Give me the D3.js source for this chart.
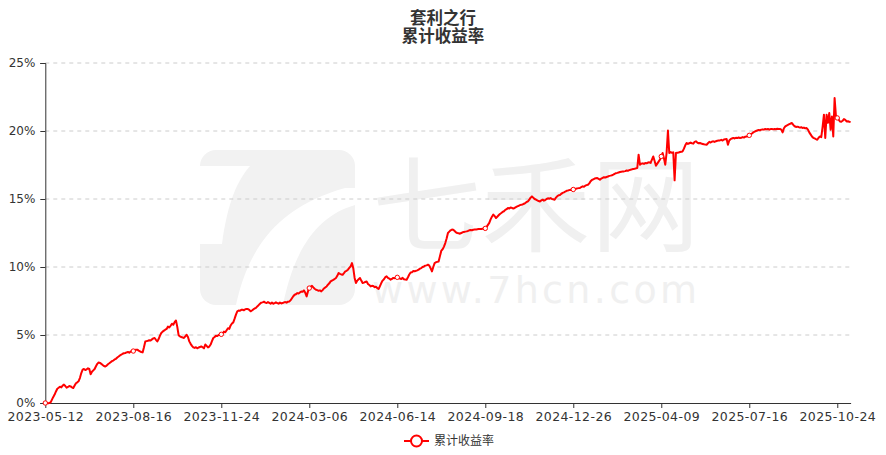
<!DOCTYPE html>
<html><head><meta charset="utf-8">
<script src="https://cdn.jsdelivr.net/npm/d3@7/dist/d3.min.js"></script>
<style>body{margin:0;background:#fff}svg{display:block}</style>
</head><body><svg id="c" width="886" height="455"></svg>
<script>
const titleLines = ["套利之行", "累计收益率"];
const seriesName = "累计收益率";
const tickLabels = ["2023-05-12","2023-08-16","2023-11-24","2024-03-06","2024-06-14","2024-09-18","2024-12-26","2025-04-09","2025-07-16","2025-10-24"];
const tickStep = 66;
const yTicks = [0, 5, 10, 15, 20, 25];
// cumulative return (%) per trading day
const returns = [
0,0.02,-0.03,0.0,0.05,0.25,0.45,0.62,0.85,1.05,
1.12,1.2,1.15,1.28,1.35,1.25,1.12,1.18,1.25,1.22,
1.15,1.1,1.28,1.45,1.52,1.6,1.85,2.2,2.45,2.5,
2.42,2.48,2.55,2.5,2.12,2.3,2.4,2.5,2.7,2.88,
2.98,2.95,2.88,2.8,2.72,2.68,2.75,2.85,2.92,3.0,
3.08,3.12,3.2,3.25,3.35,3.42,3.5,3.55,3.62,3.66,
3.68,3.72,3.75,3.7,3.78,3.82,
3.82,3.88,3.92,3.92,3.85,3.8,3.75,3.72,4.1,4.52,
4.55,4.58,4.62,4.6,4.68,4.75,4.78,4.65,4.53,4.7,
4.95,5.15,5.25,5.32,5.39,5.45,5.62,5.55,5.68,5.83,
5.75,5.95,6.07,5.6,4.98,4.9,4.85,4.82,4.78,4.9,
5.02,4.85,4.53,4.35,4.2,4.09,4.05,4.1,4.02,4.08,
4.12,4.16,4.1,4.02,4.3,4.2,4.09,4.15,4.3,4.55,
4.78,4.85,4.95,4.92,5.0,5.02,
5.05,5.1,5.25,5.2,5.35,5.5,5.45,5.7,5.85,5.93,
6.2,6.5,6.74,6.8,6.78,6.85,6.86,6.82,6.9,6.92,
6.91,6.85,6.74,6.8,6.88,6.95,6.99,7.1,7.2,7.3,
7.38,7.4,7.45,7.38,7.35,7.42,7.36,7.3,7.38,7.3,
7.34,7.4,7.35,7.3,7.38,7.32,7.35,7.4,7.42,7.38,
7.45,7.47,7.55,7.7,7.85,7.96,8.0,8.08,8.05,8.13,
8.2,8.18,8.28,8.1,7.84,8.2,
8.45,8.55,8.62,8.5,8.4,8.33,8.3,8.25,8.28,8.21,
8.3,8.42,8.5,8.57,8.7,8.8,8.94,9.0,9.05,9.12,
9.19,9.35,9.56,9.5,9.45,9.43,9.55,9.68,9.72,9.8,
9.93,10.05,10.29,9.9,9.2,8.82,9.0,9.1,9.19,9.0,
8.82,8.85,8.9,8.94,8.75,8.68,8.57,8.62,8.6,8.52,
8.55,8.45,8.38,8.6,8.82,9.0,9.1,9.25,9.31,9.2,
9.15,9.07,9.12,9.2,9.18,9.22,
9.24,9.2,9.15,9.12,9.2,9.1,9.08,9.07,9.25,9.45,
9.6,9.62,9.7,9.68,9.72,9.75,9.8,9.88,9.92,10.0,
10.04,10.1,10.12,10.17,10.1,9.9,9.68,10.0,10.29,10.35,
10.38,10.41,10.8,11.2,11.3,11.5,11.76,12.1,12.5,12.6,
12.7,12.75,12.74,12.65,12.55,12.5,12.48,12.45,12.5,12.55,
12.58,12.6,12.62,12.65,12.7,12.72,12.7,12.74,12.76,12.75,
12.78,12.8,12.79,12.8,12.82,12.83,
12.84,12.95,13.1,13.24,13.5,13.7,13.85,13.75,13.6,13.7,
13.8,13.9,13.97,14.05,14.1,14.2,14.25,14.34,14.3,14.38,
14.35,14.3,14.34,14.4,14.45,14.5,14.55,14.58,14.6,14.65,
14.7,14.78,14.82,14.95,15.1,15.19,15.1,15.0,14.95,14.9,
14.85,14.82,14.9,14.95,14.88,14.92,15.0,15.05,15.02,15.07,
15.0,14.98,14.95,15.1,15.2,15.28,15.3,15.38,15.45,15.49,
15.55,15.6,15.62,15.65,15.68,15.66,
15.7,15.72,15.75,15.78,15.8,15.81,15.88,15.93,15.9,15.98,
16.02,16.05,16.15,16.3,16.4,16.45,16.5,16.52,16.54,16.48,
16.42,16.5,16.55,16.6,16.58,16.62,16.65,16.7,16.72,16.75,
16.79,16.85,16.9,16.92,16.95,16.98,17.0,17.02,17.03,17.05,
17.1,17.08,17.12,17.15,17.18,17.2,17.22,17.25,17.28,18.26,
17.52,17.6,17.62,17.58,17.65,17.62,17.68,17.7,17.65,17.9,
18.13,17.8,17.45,17.6,17.75,17.89,
18.13,18.38,18.0,17.52,18.4,20.04,18.38,18.45,18.4,18.43,
16.37,18.38,18.4,18.42,18.45,18.48,18.5,18.7,18.95,19.12,
19.05,19.1,19.15,19.1,19.07,19.2,19.24,19.15,19.1,19.12,
19.08,19.05,19.02,19.0,18.99,19.1,19.2,19.15,19.22,19.24,
19.2,19.25,19.28,19.3,19.31,19.35,19.3,19.38,19.4,19.41,
18.99,19.3,19.4,19.45,19.49,19.45,19.5,19.48,19.52,19.49,
19.5,19.55,19.52,19.58,19.6,19.62,
19.68,19.75,19.82,19.9,19.95,20.0,20.04,20.08,20.05,20.1,
20.12,20.1,20.15,20.12,20.15,20.1,20.14,20.15,20.12,20.15,
20.13,20.16,20.14,20.15,20.1,19.9,20.2,20.34,20.4,20.45,
20.5,20.55,20.59,20.45,20.35,20.3,20.32,20.29,20.25,20.28,
20.22,20.25,20.2,20.22,20.1,19.9,19.75,19.6,19.5,19.45,
19.4,19.36,19.5,19.6,19.55,20.3,21.2,19.49,21.2,20.6,
21.32,20.1,21.07,19.6,22.43,21.1,
20.96,20.85,20.7,20.68,20.75,20.88,20.82,20.7,20.72,20.68,20.66
];

const svg = d3.select("#c");
const W = 886, H = 455;
const m = {left: 45.3, right: 886 - 850.6, top: 63, bottom: 455 - 403};
const x = d3.scaleLinear().domain([0, returns.length - 1]).range([m.left, W - m.right]);
const y = d3.scaleLinear().domain([0, 25]).range([H - m.bottom, m.top]);

// watermark
const wm = svg.append("g").attr("fill", "#f2f2f2");
wm.append("rect").attr("x", 200).attr("y", 150).attr("width", 155).attr("height", 155).attr("rx", 16);
const wmw = svg.append("g").attr("fill", "#fff");
wmw.append("rect").attr("x", 200).attr("y", 166).attr("width", 18).attr("height", 78);
wmw.append("path").attr("d", "M236,305 C250,240 285,205 345,188 L355,188 L355,205 C320,215 295,245 283,305 Z");
wmw.append("path").attr("d", "M218,166 L250,166 C238,180 228,200 222,244 L218,244 Z");
const wt = svg.append("text").attr("fill", "#f0f0f0");
wt.append("tspan").attr("x", 372).attr("y", 244)
  .attr("font-family", "Noto Sans CJK SC").attr("font-size", 104)
  .attr("textLength", 328).attr("lengthAdjust", "spacingAndGlyphs").text("七禾网");
wt.append("tspan").attr("x", 372).attr("y", 303)
  .attr("font-family", "DejaVu Sans").attr("font-size", 38)
  .attr("textLength", 325).attr("lengthAdjust", "spacing").text("www.7hcn.com");

// grid
const g = svg.append("g");
g.selectAll("line.grid").data(yTicks.filter(d => d > 0)).join("line")
  .attr("x1", m.left).attr("x2", W - m.right)
  .attr("y1", d => y(d)).attr("y2", d => y(d))
  .attr("stroke", "#ccc").attr("stroke-dasharray", "4,4").attr("stroke-width", 1);

// y axis
const yAxis = g.append("g").attr("transform", `translate(${m.left},0)`)
  .call(d3.axisLeft(y).tickValues(yTicks).tickSize(5).tickPadding(5).tickFormat(d => d + "%"));
yAxis.select(".domain").attr("stroke", "#333");
yAxis.selectAll(".tick line").attr("stroke", "#333");
yAxis.selectAll("text").attr("fill", "#333").attr("font-size", 12).attr("font-family", "DejaVu Sans, sans-serif");

// x axis
const tickIdx = tickLabels.map((_, i) => i * tickStep);
const xAxis = g.append("g").attr("transform", `translate(0,${H - m.bottom})`)
  .call(d3.axisBottom(x).tickValues(tickIdx).tickSize(5).tickPadding(4).tickSizeOuter(0)
    .tickFormat((d, i) => tickLabels[i]));
xAxis.select(".domain").attr("stroke", "#333");
xAxis.selectAll(".tick line").attr("stroke", "#333");
xAxis.selectAll("text").attr("fill", "#333").attr("font-size", 12.5).attr("font-family", "DejaVu Sans, sans-serif")
  .attr("letter-spacing", 0.4);

// line
const line = d3.line().x((d, i) => x(i)).y(d => y(d));
g.append("path").datum(returns).attr("d", line).attr("fill", "none")
  .attr("stroke", "#ff0000").attr("stroke-width", 2).attr("stroke-linejoin", "round");
g.selectAll("circle.pt").data(tickIdx).join("circle")
  .attr("cx", d => x(d)).attr("cy", d => y(returns[d])).attr("r", 2.2)
  .attr("fill", "#fff").attr("stroke", "#ff0000").attr("stroke-width", 1);

// title (one text block, two lines)
const tt = svg.append("text").attr("text-anchor", "middle")
  .attr("font-family", "Noto Sans CJK SC").attr("font-weight", "bold").attr("font-size", 16.5)
  .attr("fill", "#333");
tt.selectAll("tspan").data(titleLines).join("tspan")
  .attr("x", 443).attr("y", (d, i) => 24 + i * 18).text(d => d);

// legend
const lg = svg.append("g").attr("transform", "translate(404,441)");
lg.append("line").attr("x1", 0).attr("x2", 25).attr("stroke", "#ff0000").attr("stroke-width", 2);
lg.append("circle").attr("cx", 12.5).attr("cy", 0).attr("r", 5.5).attr("fill", "#fff").attr("stroke", "#ff0000").attr("stroke-width", 2);
lg.append("text").attr("x", 30).attr("y", 0).attr("dy", "0.35em").attr("font-size", 12)
  .attr("font-family", "Noto Sans CJK SC").attr("fill", "#333").text(seriesName);
</script></body></html>
